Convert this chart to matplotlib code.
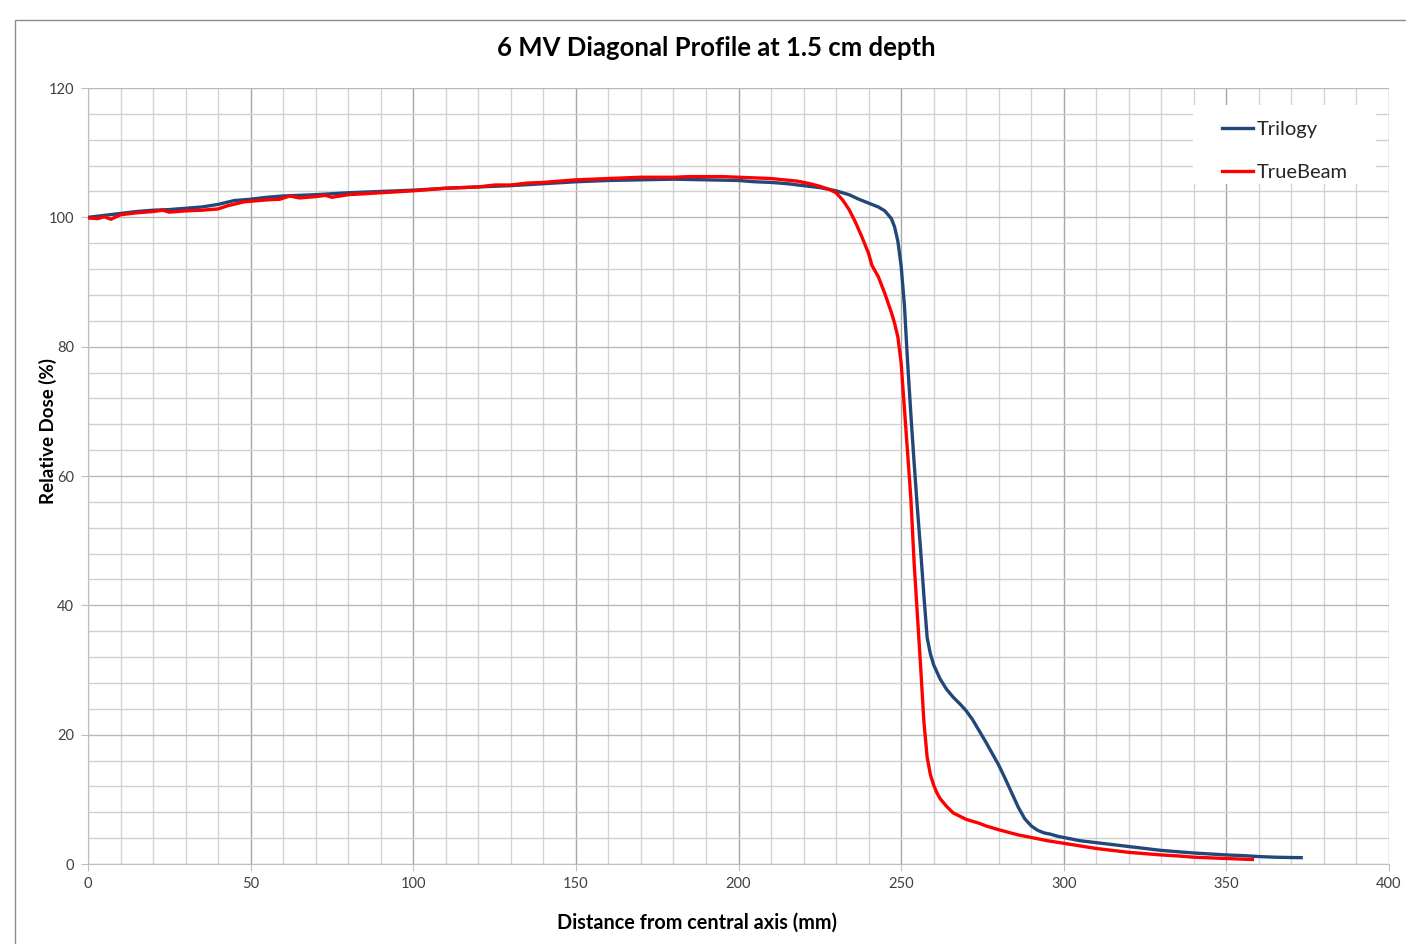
import matplotlib
matplotlib.use("Agg")
import matplotlib.pyplot as plt
from matplotlib.patches import Rectangle
from matplotlib.ticker import MultipleLocator

# ---------------- data ----------------
tri_x = [0, 5, 10, 15, 20, 25, 30, 35, 40, 45, 50, 55, 60, 70, 80, 90, 100, 110, 120, 130,
         140, 150, 160, 170, 180, 190, 200, 205, 210, 215, 220, 225, 230, 234, 237, 240, 243,
         245, 247, 248, 249, 250, 251, 252, 253, 254, 255, 256, 257, 258, 259, 260, 262, 264,
         266, 268, 270, 272, 274, 276, 278, 280, 282, 284, 286, 288, 290, 292, 294, 296, 298,
         300, 305, 310, 315, 320, 325, 330, 335, 340, 345, 350, 355, 360, 365, 370, 373]
tri_y = [100.0, 100.3, 100.6, 100.9, 101.1, 101.2, 101.4, 101.6, 102.0, 102.6, 102.8, 103.1,
         103.3, 103.5, 103.8, 104.0, 104.2, 104.5, 104.7, 104.9, 105.2, 105.5, 105.7, 105.8,
         105.9, 105.8, 105.7, 105.5, 105.4, 105.2, 104.9, 104.6, 104.1, 103.5, 102.8, 102.2,
         101.6, 101.0, 99.8, 98.5, 96.3, 92.5, 86.5, 77.5, 69.5, 62.0, 55.0, 48.5, 41.5, 35.0,
         32.5, 30.8, 28.6, 27.0, 25.8, 24.8, 23.7, 22.3, 20.6, 18.9, 17.1, 15.3, 13.2, 11.0,
         8.8, 7.0, 5.9, 5.2, 4.8, 4.6, 4.3, 4.1, 3.6, 3.3, 3.0, 2.7, 2.4, 2.1, 1.9, 1.7, 1.55,
         1.4, 1.3, 1.15, 1.05, 1.0, 0.98]

tb_x = [0, 3, 5, 7, 10, 15, 20, 23, 25, 30, 35, 40, 43, 48, 55, 59, 62, 65, 70, 73, 75, 80,
        90, 100, 110, 120, 125, 130, 135, 140, 145, 150, 155, 160, 165, 170, 175, 180, 185,
        190, 195, 200, 205, 210, 214, 218, 222, 225, 228, 230, 232, 234, 236, 238, 240, 241,
        243, 245, 247, 248, 249, 250, 251, 252, 253, 254, 255, 256, 257, 258, 259, 260, 261,
        262, 264, 266, 268, 270, 272, 274, 276, 278, 280, 283, 286, 290, 295, 300, 305, 310,
        315, 320, 325, 330, 335, 340, 345, 350, 355, 358]
tb_y = [99.9, 99.8, 100.1, 99.7, 100.4, 100.7, 100.9, 101.1, 100.8, 101.0, 101.1, 101.3,
        101.8, 102.4, 102.7, 102.8, 103.3, 103.0, 103.2, 103.4, 103.1, 103.5, 103.8, 104.1,
        104.5, 104.7, 105.0, 105.0, 105.3, 105.4, 105.6, 105.8, 105.9, 106.0, 106.1, 106.2,
        106.2, 106.2, 106.3, 106.3, 106.3, 106.2, 106.1, 106.0, 105.8, 105.6, 105.2, 104.8,
        104.3, 103.8, 102.7, 101.2, 99.2, 96.9, 94.4, 92.6, 90.8, 88.2, 85.3, 83.6, 81.5,
        77.5, 70.5, 63.5, 56.5, 46.5, 38.5, 30.5, 22.0, 16.5, 13.8, 12.2, 11.0, 10.1, 8.9,
        7.9, 7.4, 6.9, 6.6, 6.3, 5.9, 5.6, 5.3, 4.9, 4.5, 4.1, 3.6, 3.2, 2.8, 2.4, 2.1, 1.8,
        1.6, 1.4, 1.25, 1.05, 0.95, 0.85, 0.75, 0.7]

series_names = ["Trilogy", "TrueBeam"]
title = "6 MV Diagonal Profile at 1.5 cm depth"
xlabel = "Distance from central axis (mm)"
ylabel = "Relative Dose (%)"

# ---------------- figure ----------------
FONT = ["Lato", "DejaVu Sans"]
plt.rcParams["font.family"] = FONT

W, H = 1406, 944
fig = plt.figure(figsize=(W / 100, H / 100), dpi=100)
fig.patch.set_facecolor("white")

# outer chart border
fig.patches.append(Rectangle((15 / W, -0.05), 1.2, 1 - 20 / H + 0.05,
                             transform=fig.transFigure, fill=False,
                             edgecolor="#8c8c8c", linewidth=1.0))

ax = fig.add_axes([88 / W, 1 - 864 / H, (1389 - 88) / W, (864 - 88) / H])

ax.plot(tri_x, tri_y, color="#22487a", linewidth=2.4, label=series_names[0], zorder=3)
ax.plot(tb_x, tb_y, color="#ff0000", linewidth=2.4, label=series_names[1], zorder=4)

ax.set_xlim(0, 400)
ax.set_ylim(0, 120)
ax.xaxis.set_major_locator(MultipleLocator(50))
ax.xaxis.set_minor_locator(MultipleLocator(10))
ax.yaxis.set_major_locator(MultipleLocator(20))
ax.yaxis.set_minor_locator(MultipleLocator(4))

ax.grid(which="major", axis="x", color="#a6a6a6", linewidth=1.0)
ax.grid(which="minor", axis="x", color="#d4d4d4", linewidth=1.0)
ax.grid(which="major", axis="y", color="#b8b8b8", linewidth=1.0)
ax.grid(which="minor", axis="y", color="#d0d0d0", linewidth=1.0)
ax.set_axisbelow(True)

for s in ["top", "right"]:
    ax.spines[s].set_visible(False)
ax.spines["left"].set_color("#bfbfbf")
ax.spines["bottom"].set_color("#bfbfbf")

ax.tick_params(axis="both", which="major", length=5, color="#bfbfbf",
               labelsize=10.5, labelcolor="#404040")
ax.tick_params(axis="x", which="major", pad=4)
ax.tick_params(axis="y", which="major", pad=5)
ax.tick_params(which="minor", length=0)

# titles and axis labels placed in figure pixels
fig.text(716 / W, 1 - 48 / H, title, fontsize=18.5, fontweight="bold",
         color="#000000", ha="center", va="center")
fig.text(697 / W, 1 - 923 / H, xlabel, fontsize=14.3, fontweight="bold",
         color="#000000", ha="center", va="center")
fig.text(48 / W, 1 - 431 / H, ylabel, fontsize=13.5, fontweight="bold",
         color="#000000", ha="center", va="center", rotation=90)

# white legend background box
ax.add_patch(Rectangle((1193 / W, 1 - 184 / H), (1376 - 1193) / W, (184 - 105) / H,
                       transform=fig.transFigure, facecolor="white",
                       edgecolor="none", zorder=2.5))

leg = ax.legend(loc="upper left", frameon=False, fontsize=14.5,
                handlelength=1.55, handletextpad=0.2, labelspacing=1.3,
                borderpad=0, borderaxespad=0)
leg.set_bbox_to_anchor((1222 / W, 1 - 121 / H), transform=fig.transFigure)
for t in leg.get_texts():
    t.set_color("#262626")

fig.savefig("out.png", dpi=100, facecolor="white")
